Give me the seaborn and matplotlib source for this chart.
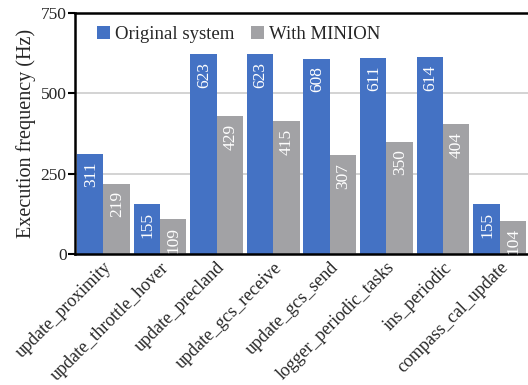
import matplotlib
matplotlib.use("Agg")
import matplotlib.pyplot as plt
import seaborn as sns
import pandas as pd

tasks = ["update_proximity", "update_throttle_hover", "update_precland",
         "update_gcs_receive", "update_gcs_send", "logger_periodic_tasks",
         "ins_periodic", "compass_cal_update"]
original = [311, 155, 623, 623, 608, 611, 614, 155]
minion = [219, 109, 429, 415, 307, 350, 404, 104]
series = ["Original system", "With MINION"]
yticks = [0, 250, 500, 750]

df = pd.DataFrame({
    "task": tasks * 2,
    "freq": original + minion,
    "system": [series[0]] * len(tasks) + [series[1]] * len(tasks),
})

sns.set_theme(style="white")
plt.rcParams["font.family"] = ["Liberation Serif", "DejaVu Serif"]

fig = plt.figure(figsize=(5.28, 3.85), dpi=100)
ax = fig.add_axes([0.142, 0.340, 0.858, 0.626])

sns.barplot(data=df, x="task", y="freq", hue="system", order=tasks,
            hue_order=series, palette=["#4472C4", "#A2A2A5"],
            width=0.93, saturation=1, linewidth=0, ax=ax, legend=True)

for container, vals in zip(ax.containers, [original, minion]):
    for patch, v in zip(container, vals):
        ax.annotate(str(v), (patch.get_x() + patch.get_width() / 2, patch.get_height()),
                    xytext=(0.5, -5.5), textcoords="offset points", rotation=90,
                    ha="center", va="top", color="white", fontsize=12.5)

ax.set_ylim(0, 750)
ax.set_xlim(-0.5, len(tasks) - 0.5)
ax.set_yticks(yticks)
ax.set_yticklabels([str(t) for t in yticks], fontsize=12.5)
ax.yaxis.grid(True, color="#D0D0D0", linewidth=1.3)
ax.set_axisbelow(True)
ax.tick_params(axis="y", left=True, length=5, width=1.5, color="black", pad=1)
ax.tick_params(axis="x", bottom=False, pad=-2.5)
ax.set_xticks(range(len(tasks)))
ax.set_xticklabels(tasks, rotation=45, ha="right", rotation_mode="anchor", fontsize=13)
ax.set_xlabel("")
ax.set_ylabel("Execution frequency (Hz)", fontsize=14.5, labelpad=3)

for side in ["left", "bottom", "top"]:
    ax.spines[side].set_visible(True)
    ax.spines[side].set_color("black")
    ax.spines[side].set_linewidth(1.8)
ax.spines["right"].set_visible(False)

leg = ax.legend(loc="upper left", bbox_to_anchor=(0.02, 1.0), ncol=2, frameon=False,
                fontsize=13.5, handlelength=0.7, handleheight=0.7, handletextpad=0.25,
                columnspacing=0.9, borderaxespad=0.3)

fig.savefig("out.png", dpi=100)
